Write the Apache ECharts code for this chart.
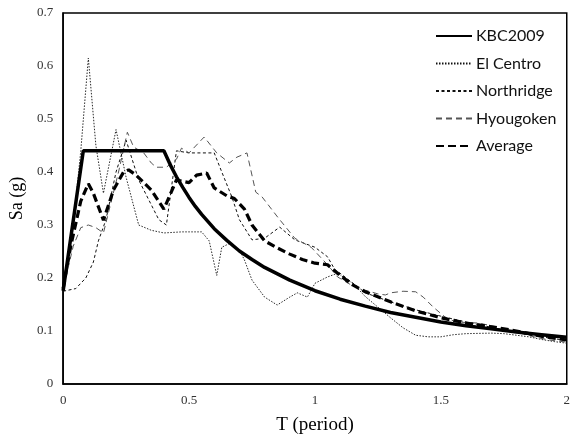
<!DOCTYPE html>
<html>
<head>
<meta charset="utf-8">
<script src="https://cdn.jsdelivr.net/npm/echarts@6/dist/echarts.min.js"></script>
<style>
  html, body { margin: 0; padding: 0; background: #fff; }
  #chart { width: 573px; height: 440px; }
</style>
</head>
<body>
<div id="chart"></div>
<script>
// Design spectrum (KBC2009) and response spectra of three records, period T (s) vs Sa (g)
const kbcT  = [0, 0.08, 0.4, 0.425, 0.45, 0.475, 0.5, 0.525, 0.55, 0.6, 0.65, 0.7, 0.75, 0.8, 0.9, 1.0, 1.1, 1.2, 1.3, 1.4, 1.5, 1.6, 1.7, 1.8, 1.9, 2.0];
const kbcSa = [0.176, 0.44, 0.44, 0.414, 0.391, 0.371, 0.352, 0.335, 0.32, 0.293, 0.271, 0.251, 0.235, 0.22, 0.196, 0.176, 0.16, 0.147, 0.135, 0.126, 0.117, 0.11, 0.104, 0.098, 0.093, 0.088];

const elCentroT  = [0, 0.04, 0.07, 0.1, 0.13, 0.16, 0.21, 0.25, 0.3, 0.35, 0.4, 0.47, 0.55, 0.58, 0.61, 0.63, 0.66, 0.7, 0.72, 0.75, 0.8, 0.85, 0.9, 0.93, 0.97, 1.0, 1.05, 1.09, 1.15, 1.2, 1.25, 1.3, 1.35, 1.4, 1.45, 1.5, 1.55, 1.6, 1.7, 1.75, 1.8, 1.85, 1.9, 1.95, 2.0];
const elCentroSa = [0.18, 0.3, 0.44, 0.615, 0.45, 0.36, 0.48, 0.39, 0.3, 0.29, 0.285, 0.287, 0.287, 0.27, 0.205, 0.258, 0.265, 0.253, 0.234, 0.196, 0.164, 0.149, 0.164, 0.172, 0.164, 0.19, 0.202, 0.209, 0.19, 0.165, 0.145, 0.125, 0.106, 0.092, 0.089, 0.089, 0.093, 0.095, 0.096, 0.095, 0.092, 0.089, 0.084, 0.08, 0.077];

const northridgeT  = [0, 0.05, 0.09, 0.12, 0.14, 0.17, 0.21, 0.25, 0.3, 0.38, 0.41, 0.45, 0.5, 0.6, 0.63, 0.67, 0.7, 0.75, 0.8, 0.86, 0.92, 1.0, 1.05, 1.08, 1.1, 1.2, 1.3, 1.4, 1.5, 1.6, 1.7, 1.8, 1.9, 2.0];
const northridgeSa = [0.175, 0.18, 0.2, 0.23, 0.27, 0.31, 0.4, 0.46, 0.385, 0.31, 0.3, 0.44, 0.436, 0.436, 0.4, 0.353, 0.31, 0.272, 0.275, 0.296, 0.272, 0.258, 0.24, 0.215, 0.209, 0.172, 0.155, 0.14, 0.128, 0.117, 0.107, 0.097, 0.089, 0.082];

const hyougokenT  = [0, 0.04, 0.07, 0.1, 0.13, 0.16, 0.22, 0.255, 0.28, 0.32, 0.35, 0.37, 0.41, 0.45, 0.47, 0.5, 0.56, 0.61, 0.66, 0.69, 0.73, 0.765, 0.79, 0.855, 0.92, 0.985, 1.05, 1.09, 1.15, 1.2, 1.25, 1.28, 1.3, 1.35, 1.4, 1.43, 1.47, 1.52, 1.56, 1.65, 1.72, 1.8, 1.87, 1.93, 2.0];
const hyougokenSa = [0.18, 0.26, 0.295, 0.3, 0.295, 0.285, 0.4, 0.475, 0.447, 0.436, 0.417, 0.409, 0.409, 0.424, 0.445, 0.436, 0.466, 0.436, 0.417, 0.428, 0.436, 0.362, 0.353, 0.313, 0.275, 0.258, 0.225, 0.202, 0.185, 0.177, 0.17, 0.168, 0.172, 0.175, 0.174, 0.164, 0.145, 0.125, 0.117, 0.115, 0.108, 0.098, 0.089, 0.083, 0.079];

const averageT  = [0, 0.03, 0.07, 0.1, 0.12, 0.16, 0.2, 0.24, 0.26, 0.29, 0.35, 0.4, 0.45, 0.5, 0.53, 0.57, 0.6, 0.65, 0.68, 0.72, 0.75, 0.8, 0.85, 0.9, 0.95, 1.0, 1.05, 1.1, 1.15, 1.2, 1.3, 1.4, 1.5, 1.6, 1.7, 1.8, 1.9, 2.0];
const averageSa = [0.18, 0.26, 0.345, 0.378, 0.36, 0.309, 0.366, 0.4, 0.404, 0.394, 0.366, 0.33, 0.385, 0.38, 0.394, 0.398, 0.37, 0.355, 0.35, 0.33, 0.3, 0.27, 0.257, 0.245, 0.235, 0.228, 0.225, 0.205, 0.187, 0.174, 0.155, 0.138, 0.125, 0.115, 0.108, 0.1, 0.09, 0.083];

const xTicks = [0, 0.5, 1, 1.5, 2];

const pairs = (t, v) => t.map((x, i) => [x, v[i]]);

const chart = echarts.init(document.getElementById('chart'), null, { renderer: 'canvas' });

const serifFont = '"Liberation Serif", "DejaVu Serif", serif';

chart.setOption({
  backgroundColor: '#fff',
  animation: false,
  grid: {
    left: 62, right: 1, top: 13, bottom: 56,
    show: true, borderColor: '#000', borderWidth: 1.5, backgroundColor: 'transparent'
  },
  legend: {
    orient: 'vertical',
    left: 430, top: 23,
    itemWidth: 36, itemHeight: 14, itemGap: 11.5,
    itemStyle: { opacity: 0 },
    textStyle: { fontFamily: 'Lato, "Liberation Sans", sans-serif', fontSize: 16, color: '#111', padding: [0, 0, 0, -1] },
    data: ['KBC2009', 'El Centro', 'Northridge', 'Hyougoken', 'Average']
  },
  xAxis: {
    type: 'value', min: 0, max: 2, interval: 0.5,
    name: 'T (period)', nameLocation: 'middle', nameGap: 32,
    nameTextStyle: { fontFamily: serifFont, fontSize: 19, color: '#000' },
    axisLine: { lineStyle: { color: '#000', width: 1.5 } },
    axisTick: { show: false },
    splitLine: { show: false },
    axisLabel: {
      fontFamily: serifFont, fontSize: 13, color: '#333', margin: 10,
      formatter: v => xTicks.includes(v) ? String(v) : ''
    }
  },
  yAxis: {
    type: 'value', min: 0, max: 0.7, interval: 0.1,
    name: 'Sa (g)', nameLocation: 'middle', nameGap: 20, nameRotate: 90,
    nameTextStyle: { fontFamily: serifFont, fontSize: 18, color: '#000' },
    axisLine: { show: true, lineStyle: { color: '#000', width: 1.5 } },
    axisTick: { show: false },
    splitLine: { show: false },
    axisLabel: {
      fontFamily: serifFont, fontSize: 13, color: '#333', margin: 10,
      formatter: v => (Math.round(v * 10) / 10).toString()
    }
  },
  series: [
    {
      name: 'KBC2009', type: 'line', symbol: 'none', z: 5,
      data: pairs(kbcT, kbcSa),
      lineStyle: { color: '#000', width: 3.5 },
      itemStyle: { color: '#000' }
    },
    {
      name: 'El Centro', type: 'line', symbol: 'none', z: 2,
      data: pairs(elCentroT, elCentroSa),
      lineStyle: { color: '#111', width: 0.9, type: [1.5, 1.5] },
      itemStyle: { color: '#111' }
    },
    {
      name: 'Northridge', type: 'line', symbol: 'none', z: 3,
      data: pairs(northridgeT, northridgeSa),
      lineStyle: { color: '#111', width: 1, type: [3, 2.5] },
      itemStyle: { color: '#111' }
    },
    {
      name: 'Hyougoken', type: 'line', symbol: 'none', z: 3,
      data: pairs(hyougokenT, hyougokenSa),
      lineStyle: { color: '#555', width: 1, type: [6, 4] },
      itemStyle: { color: '#555' }
    },
    {
      name: 'Average', type: 'line', symbol: 'none', z: 4,
      data: pairs(averageT, averageSa),
      lineStyle: { color: '#000', width: 3.2, type: [8, 4] },
      itemStyle: { color: '#000' }
    }
  ]
});
</script>
</body>
</html>
